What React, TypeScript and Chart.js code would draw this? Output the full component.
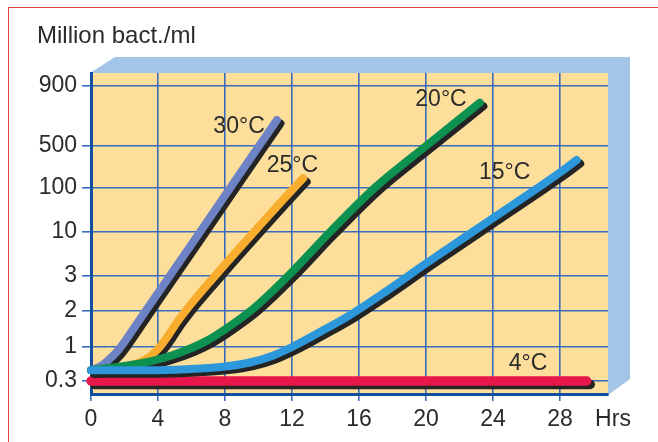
import React, { useEffect, useRef } from 'react';
import { Chart, registerables, LinearScale } from 'chart.js';

// ---------------- data ----------------
const hourTicks = [0, 4, 8, 12, 16, 20, 24, 28];
const countTicks = [0.3, 1, 2, 3, 10, 100, 500, 900];

const hours30 = [0, 0.54, 1.01, 1.55, 1.97, 3.26, 4.7, 6.51, 8.31, 10.03, 11.1];
const counts30 = [0.44, 0.5, 0.62, 0.85, 1.09, 2, 3, 10, 100, 500, 645];

const hours25 = [0, 1.43, 2.63, 3.4, 4.0, 4.6, 5.19, 5.91, 7.4, 9.73, 12.12, 12.67];
const counts25 = [0.44, 0.467, 0.548, 0.677, 0.93, 1.24, 1.65, 2.14, 3, 10, 100, 145];

const hours20 = [0, 2.93, 4.9, 6.87, 8.3, 9.79, 11.76, 14.27, 16.93, 20.0, 23.22];
const counts20 = [0.44, 0.557, 0.753, 1.12, 1.5, 2.09, 3, 10, 100, 500, 764];

const hours15 = [0, 4.0, 6.51, 8.0, 9.49, 10.81, 12.0, 13.67, 15.46, 17.55, 20.04, 24.01, 28.0, 29.0];
const counts15 = [0.44, 0.44, 0.467, 0.501, 0.578, 0.727, 1.0, 1.335, 1.85, 2.49, 4.28, 20.8, 181, 292];

const hours4 = [0, 29.6];
const counts4 = [0.3, 0.3];

const curveNames = ['30°C', '25°C', '20°C', '15°C', '4°C'];
const nameHours = [8.84, 12.03, 20.9, 24.7, 26.1];
const nameCounts = [603, 232, 785, 178, 0.55];

const yTitle = 'Million bact./ml';
const xTitle = 'Hrs';

// ---------------- layout / style ----------------
// spacing (px) of the printed, non-uniform vertical axis stops
const AXIS_STOPS = [0, 34, 70, 105, 149, 193, 235, 295];
const AXIS_BELOW = 13;
const AXIS_ABOVE = 13;
const X_MAX = 30.87;

const FONT = '"Liberation Sans", Arial, Helvetica, sans-serif';
const TEXT = '#2b2b2b';
const GRID = '#3a6cbd';
const AXIS = '#124f9f';
const PLOT_BG = '#fddf9b';
const FRAME = '#a3c5e8';
const SHADOW = '#242424';

function toAxisPos(v: number): number {
  const n = countTicks.length;
  let i = 0;
  if (v <= countTicks[0]) i = 0;
  else if (v >= countTicks[n - 1]) i = n - 2;
  else {
    while (v > countTicks[i + 1]) i++;
  }
  const a = countTicks[i];
  const b = countTicks[i + 1];
  const t = Math.log(v / a) / Math.log(b / a);
  return AXIS_STOPS[i] + t * (AXIS_STOPS[i + 1] - AXIS_STOPS[i]);
}

function fromAxisPos(p: number): number {
  const n = AXIS_STOPS.length;
  let i = 0;
  if (p <= AXIS_STOPS[0]) i = 0;
  else if (p >= AXIS_STOPS[n - 1]) i = n - 2;
  else {
    while (p > AXIS_STOPS[i + 1]) i++;
  }
  const t = (p - AXIS_STOPS[i]) / (AXIS_STOPS[i + 1] - AXIS_STOPS[i]);
  return countTicks[i] * Math.pow(countTicks[i + 1] / countTicks[i], t);
}

class StepLogScale extends (LinearScale as any) {
  static id = 'steplog';
  static defaults = {};
  determineDataLimits() {
    this.min = AXIS_STOPS[0] - AXIS_BELOW;
    this.max = AXIS_STOPS[AXIS_STOPS.length - 1] + AXIS_ABOVE;
  }
  buildTicks() {
    return countTicks.map((v) => ({ value: v }));
  }
  getPixelForValue(v: number) {
    if (v == null || !(v > 0)) return this.bottom;
    return this.getPixelForDecimal((toAxisPos(v) - this.min) / (this.max - this.min));
  }
  getValueForPixel(px: number) {
    return fromAxisPos(this.min + this.getDecimalForPixel(px) * (this.max - this.min));
  }
}

Chart.register(...registerables);
Chart.register(StepLogScale as any);

const pts = (h: number[], c: number[]) => h.map((x, i) => ({ x, y: c[i] }));

const series = [
  { h: hours15, c: counts15, color: '#2c97da', w: 8, order: 1 },
  { h: hours20, c: counts20, color: '#0d9150', w: 8, order: 2 },
  { h: hours25, c: counts25, color: '#f8ad2e', w: 8, order: 3 },
  { h: hours30, c: counts30, color: '#6d83c5', w: 8, order: 4 },
  { h: hours4, c: counts4, color: '#e8174b', w: 9.5, order: 5 },
];

const decorPlugin = {
  id: 'decor',
  beforeDraw(chart: any) {
    const { ctx, chartArea } = chart;
    const L = chartArea.left - 1;
    const T = chartArea.top;
    const R = chartArea.right;
    const B = chartArea.bottom;
    ctx.save();
    ctx.fillStyle = FRAME;
    ctx.beginPath();
    ctx.moveTo(L, T);
    ctx.lineTo(L + 25, T - 16);
    ctx.lineTo(R + 22, T - 16);
    ctx.lineTo(R + 22, B - 15);
    ctx.lineTo(R, B + 1);
    ctx.lineTo(R, T);
    ctx.closePath();
    ctx.fill();
    ctx.fillStyle = PLOT_BG;
    ctx.fillRect(L, T, R - L, B - T);
    ctx.restore();
  },
  beforeDatasetDraw(chart: any) {
    const ctx = chart.ctx;
    ctx.save();
    ctx.shadowColor = SHADOW;
    ctx.shadowOffsetX = 3.5;
    ctx.shadowOffsetY = 3.5;
    ctx.shadowBlur = 0;
  },
  afterDatasetDraw(chart: any) {
    chart.ctx.restore();
  },
  afterDatasetsDraw(chart: any) {
    const { ctx, chartArea, scales } = chart;
    ctx.save();
    ctx.fillStyle = TEXT;
    ctx.font = `23px ${FONT}`;
    ctx.textAlign = 'center';
    ctx.textBaseline = 'middle';
    curveNames.forEach((name, i) => {
      ctx.fillText(name, scales.x.getPixelForValue(nameHours[i]), scales.y.getPixelForValue(nameCounts[i]));
    });
    ctx.fillText(xTitle, chartArea.right + 5, scales.x.top + 26);
    ctx.font = `24px ${FONT}`;
    ctx.textAlign = 'left';
    ctx.fillText(yTitle, 37, chartArea.top - 37);
    ctx.restore();
  },
};

export default function App() {
  const ref = useRef<HTMLCanvasElement | null>(null);

  useEffect(() => {
    if (!ref.current) return;
    const chart = new Chart(ref.current, {
      type: 'line',
      data: {
        datasets: series.map((s) => ({
          data: pts(s.h, s.c),
          borderColor: s.color,
          backgroundColor: s.color,
          borderWidth: s.w,
          pointRadius: 0,
          cubicInterpolationMode: 'monotone',
          borderCapStyle: 'round',
          borderJoinStyle: 'round',
          fill: false,
          clip: false,
          order: s.order,
        })),
      } as any,
      options: {
        responsive: false,
        animation: false,
        devicePixelRatio: 1,
        events: [],
        layout: { padding: { left: 0, top: 73, right: 50, bottom: 8 } },
        plugins: {
          legend: { display: false },
          tooltip: { enabled: false },
        },
        scales: {
          x: {
            type: 'linear',
            min: 0,
            max: X_MAX,
            afterBuildTicks: (s: any) => {
              s.ticks = hourTicks.map((v) => ({ value: v }));
            },
            afterFit: (s: any) => {
              s.height = 40;
            },
            grid: { color: GRID, lineWidth: 1.6, tickLength: 7, drawTicks: true },
            border: { display: true, color: AXIS, width: 3 },
            ticks: {
              color: TEXT,
              font: { family: FONT, size: 23 },
              padding: 5,
              autoSkip: false,
              maxRotation: 0,
              callback: (v: any) => String(v),
            },
          },
          y: {
            type: 'steplog',
            afterFit: (s: any) => {
              s.width = 91;
            },
            grid: { color: GRID, lineWidth: 1.6, tickLength: 9, drawTicks: true },
            border: { display: true, color: AXIS, width: 3 },
            ticks: {
              color: TEXT,
              font: { family: FONT, size: 23 },
              padding: 5,
              autoSkip: false,
              callback: (v: any) => String(v),
            },
          } as any,
        },
      } as any,
      plugins: [decorPlugin],
    });
    return () => chart.destroy();
  }, []);

  return (
    <div style={{ position: 'absolute', left: 0, top: 0, width: 658, height: 442, background: '#fff', overflow: 'hidden' }}>
      <div
        style={{
          position: 'absolute',
          left: 8,
          top: 7,
          width: 700,
          height: 500,
          borderTop: '1px solid #d94444',
          borderLeft: '1px solid #d94444',
        }}
      />
      <canvas ref={ref} width={658} height={442} style={{ position: 'absolute', left: 0, top: 0, width: 658, height: 442 }} />
    </div>
  );
}
